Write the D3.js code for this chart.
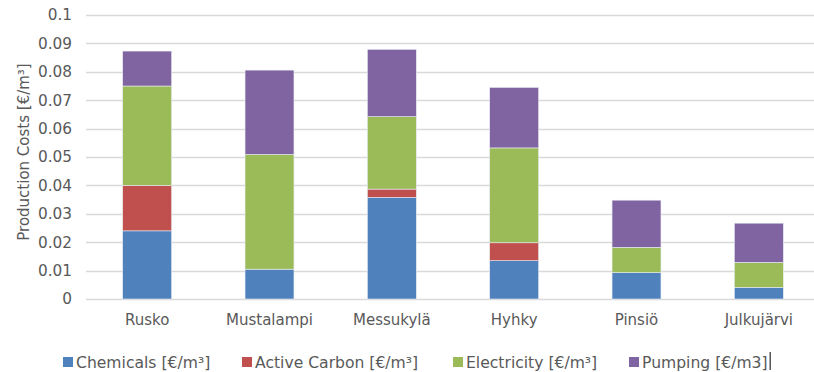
<!DOCTYPE html>
<html>
<head>
<meta charset="utf-8">
<script src="https://cdn.jsdelivr.net/npm/d3@7/dist/d3.min.js"></script>
<style>
  html, body { margin: 0; padding: 0; background: #fff; }
  svg { display: block; font-family: "DejaVu Sans", Verdana, sans-serif; }
</style>
</head>
<body>
<svg id="chart" width="814" height="372"></svg>
<script>
// Water treatment plants
const categories = ["Rusko", "Mustalampi", "Messukylä", "Hyhky", "Pinsiö", "Julkujärvi"];

// Cost components per plant [€/m³]
const chemicals    = [0.0240, 0.0105, 0.0358, 0.0135, 0.0093, 0.0041];
const activeCarbon = [0.0160, 0.0000, 0.0029, 0.0063, 0.0000, 0.0000];
const electricity  = [0.0350, 0.0404, 0.0255, 0.0334, 0.0089, 0.0088];
const pumping      = [0.0123, 0.0297, 0.0237, 0.0213, 0.0166, 0.0138];

const seriesNames = ["Chemicals [€/m³]", "Active Carbon [€/m³]", "Electricity [€/m³]", "Pumping [€/m3]"];
const seriesColors = ["#4f81bd", "#c0504d", "#9bbb59", "#8064a2"];
const yTicks = [0, 0.01, 0.02, 0.03, 0.04, 0.05, 0.06, 0.07, 0.08, 0.09, 0.1];
const yTitle = "Production Costs [€/m³]";

const keys = ["chemicals", "activeCarbon", "electricity", "pumping"];
const rows = categories.map((c, i) => ({
  name: c,
  chemicals: chemicals[i],
  activeCarbon: activeCarbon[i],
  electricity: electricity[i],
  pumping: pumping[i]
}));

const svg = d3.select("#chart");
const textColor = "#595959";

const x = d3.scaleBand()
  .domain(categories)
  .range([86, 820])
  .paddingInner(0.6)
  .paddingOuter(0.3);

const y = d3.scaleLinear()
  .domain([0, 0.1])
  .range([299, 15]);

// Horizontal gridlines
svg.append("g")
  .selectAll("line")
  .data(yTicks)
  .join("line")
  .attr("x1", 86)
  .attr("x2", 814)
  .attr("y1", d => Math.round(y(d)) + 0.5)
  .attr("y2", d => Math.round(y(d)) + 0.5)
  .attr("stroke", "#d9d9d9")
  .attr("stroke-width", 1.3);

// Y axis labels
const yAxis = d3.axisLeft(y)
  .tickValues(yTicks)
  .tickSize(0)
  .tickPadding(0)
  .tickFormat(d => d3.format("")(+d.toFixed(2)));
const gy = svg.append("g")
  .attr("transform", "translate(72,0)")
  .call(yAxis);
gy.select(".domain").remove();
gy.selectAll("text")
  .attr("fill", textColor)
  .attr("font-size", 15.3)
  .attr("font-family", "DejaVu Sans, Verdana, sans-serif");

// Y axis title
svg.append("text")
  .attr("transform", "translate(29,152) rotate(-90)")
  .attr("text-anchor", "middle")
  .attr("fill", textColor)
  .attr("font-size", 15)
  .text(yTitle);

// Stacked bars
const stacked = d3.stack().keys(keys)(rows);
svg.append("g")
  .selectAll("g")
  .data(stacked)
  .join("g")
  .attr("fill", (d, i) => seriesColors[i])
  .selectAll("rect")
  .data(d => d.filter(p => p[1] - p[0] > 0))
  .join("rect")
  .attr("x", d => x(d.data.name))
  .attr("width", x.bandwidth())
  .attr("y", d => y(d[1]))
  .attr("height", d => y(d[0]) - y(d[1]))
  .attr("stroke", "#e8ecf4")
  .attr("stroke-width", 0.6);

// X axis labels
const xAxis = d3.axisBottom(x).tickSize(0).tickPadding(0);
const gx = svg.append("g")
  .attr("transform", "translate(0,314)")
  .call(xAxis);
gx.select(".domain").remove();
gx.selectAll("text")
  .attr("fill", textColor)
  .attr("font-size", 15)
  .attr("font-family", "DejaVu Sans, Verdana, sans-serif");

// Legend
const legendX = [63, 242, 453, 629];
const legend = svg.append("g")
  .selectAll("g")
  .data(seriesNames)
  .join("g")
  .attr("transform", (d, i) => `translate(${legendX[i]},357)`);
legend.append("rect")
  .attr("x", 0)
  .attr("y", 0)
  .attr("width", 10)
  .attr("height", 10)
  .attr("fill", (d, i) => seriesColors[i]);
legend.append("text")
  .attr("x", 13)
  .attr("y", 10.5)
  .attr("fill", textColor)
  .attr("font-size", 15.6)
  .text(d => d);

// Text caret after the last legend entry
const lastText = legend.filter((d, i) => i === seriesNames.length - 1).select("text").node();
const caretX = legendX[legendX.length - 1] + 13 + lastText.getComputedTextLength() + 2;
svg.append("line")
  .attr("x1", caretX + 0.5)
  .attr("x2", caretX + 0.5)
  .attr("y1", 352)
  .attr("y2", 370)
  .attr("stroke", "#000")
  .attr("stroke-width", 1);
</script>
</body>
</html>
